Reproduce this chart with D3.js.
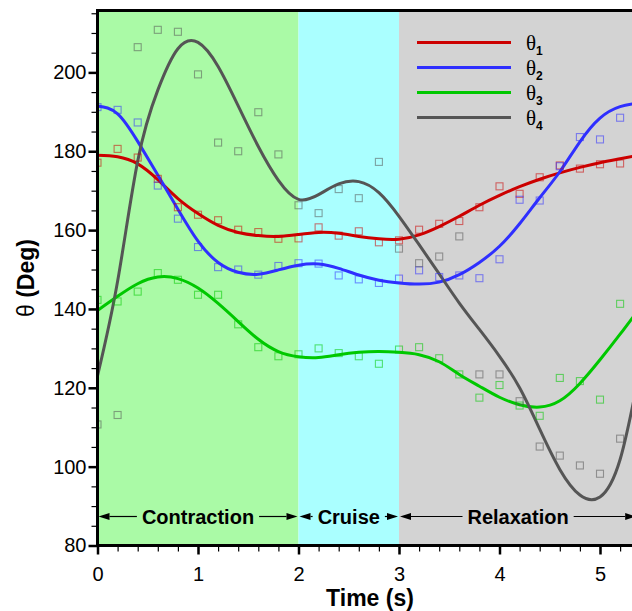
<!DOCTYPE html>
<html>
<head>
<meta charset="utf-8">
<script src="https://cdn.jsdelivr.net/npm/d3@7"></script>
<style>
  body { margin: 0; background: #fff; }
  svg { display: block; font-family: "Liberation Sans", Arial, sans-serif; }
</style>
</head>
<body>
<svg id="chart" width="632" height="611"></svg>
<script>
// measured samples (squares), every 0.2 s
const timeSamples = [0, 0.2, 0.4, 0.6, 0.8, 1.0, 1.2, 1.4, 1.6, 1.8, 2.0, 2.2, 2.4, 2.6, 2.8, 3.0, 3.2, 3.4, 3.6, 3.8, 4.0, 4.2, 4.4, 4.6, 4.8, 5.0, 5.2];
const theta1Pts = [177.1, 180.6, 178.4, 173.0, 165.8, 163.9, 162.5, 160.1, 159.5, 157.8, 157.9, 160.7, 158.6, 159.7, 156.9, 157.4, 160.1, 161.6, 162.3, 165.8, 171.1, 169.2, 173.4, 176.4, 175.6, 176.7, 176.9];
const theta2Pts = [191.2, 190.5, 187.3, 171.3, 162.9, 155.7, 150.6, 150.0, 148.7, 150.9, 151.6, 151.5, 148.5, 147.5, 146.6, 147.7, 149.8, 148.1, 148.5, 147.8, 152.6, 167.7, 167.5, 176.2, 183.6, 183.0, 188.5];
const theta3Pts = [142.3, 141.9, 144.4, 149.1, 147.4, 143.6, 143.6, 136.1, 130.3, 128.0, 128.5, 130.0, 128.8, 128.0, 126.1, 129.7, 130.3, 127.5, 123.4, 117.5, 120.7, 115.5, 112.9, 122.5, 121.7, 117.0, 141.3];
const theta4Pts = [110.7, 113.1, 206.4, 210.8, 210.3, 199.5, 182.2, 180.0, 189.9, 179.2, 166.3, 164.3, 170.4, 168.1, 177.3, 155.3, 151.6, 153.3, 158.4, 123.4, 123.4, 116.6, 105.1, 102.8, 100.3, 98.2, 107.1];

// fitted curves
const fitTime = [0, 0.2, 0.4, 0.6, 0.8, 1.0, 1.2, 1.4, 1.6, 1.8, 2.0, 2.2, 2.4, 2.6, 2.8, 3.0, 3.2, 3.4, 3.6, 3.8, 4.0, 4.2, 4.4, 4.6, 4.8, 5.0, 5.2, 5.4];
const theta1Fit = [179.0, 178.6, 176.8, 172.8, 168.0, 164.2, 161.2, 159.4, 158.6, 158.4, 158.9, 159.4, 159.2, 158.4, 157.8, 157.7, 158.8, 160.9, 163.5, 166.3, 168.8, 171.0, 172.9, 174.5, 175.9, 177.1, 178.1, 179.1];
const theta2Fit = [191.5, 189.5, 182.5, 174.0, 165.3, 157.2, 151.8, 149.3, 148.8, 149.9, 151.1, 151.4, 150.3, 148.6, 147.3, 146.6, 146.3, 146.8, 148.7, 151.8, 155.9, 161.6, 168.2, 174.8, 182.4, 188.4, 191.3, 192.3];
const theta3Fit = [139.6, 143.2, 146.4, 148.1, 147.7, 145.3, 141.4, 136.8, 132.3, 129.2, 127.9, 127.7, 128.4, 129.0, 129.2, 129.0, 128.4, 126.6, 123.4, 120.4, 117.6, 115.7, 115.1, 116.7, 121.1, 127.1, 133.6, 140.4];
const theta4Fit = [123.0, 147.0, 177.5, 195.5, 206.0, 207.6, 201.5, 191.5, 181.2, 172.6, 167.8, 169.0, 171.7, 172.3, 169.5, 163.5, 156.3, 148.9, 141.5, 134.8, 128.0, 120.0, 109.5, 99.3, 92.8, 92.3, 101.8, 125.0];

const seriesSubs = ["1", "2", "3", "4"];
const seriesColors = ["#cc0000", "#2f2fff", "#00c800", "#555555"];

// phases
const phaseNames = ["Contraction", "Cruise", "Relaxation"];
const phaseStart = [0, 2, 3];
const phaseEnd = [2, 3, 5.37];
const phaseColors = ["#aafaa6", "#aaffff", "#d3d3d3"];

const xTicks = [0, 1, 2, 3, 4, 5];
const yTicks = [80, 100, 120, 140, 160, 180, 200];

const plotLeft = 97.5, plotTop = 10.5, plotBottom = 545.5, plotRight = 640;

const x = d3.scaleLinear().domain([0, 5.4]).range([plotLeft, plotLeft + 5.4 * 100.5]);
const y = d3.scaleLinear().domain([80, 215.7]).range([plotBottom, plotTop]);

const svg = d3.select("#chart");

svg.append("defs").append("clipPath").attr("id", "plotClip")
    .append("rect")
    .attr("x", plotLeft).attr("y", plotTop)
    .attr("width", plotRight - plotLeft).attr("height", plotBottom - plotTop);

const plot = svg.append("g").attr("clip-path", "url(#plotClip)");

// background bands
plot.selectAll("rect.band")
    .data(phaseNames.map((n, i) => ({ s: phaseStart[i], e: i === 2 ? 5.6 : phaseEnd[i], c: phaseColors[i] })))
    .join("rect")
    .attr("class", "band")
    .attr("x", d => x(d.s))
    .attr("y", plotTop)
    .attr("width", d => x(d.e) - x(d.s))
    .attr("height", plotBottom - plotTop - 1)
    .attr("fill", d => d.c);

const fits = [theta1Fit, theta2Fit, theta3Fit, theta4Fit];
const pts = [theta1Pts, theta2Pts, theta3Pts, theta4Pts];

const line = d3.line()
    .x(d => x(d[0]))
    .y(d => y(d[1]))
    .curve(d3.curveNatural);

fits.forEach((f, i) => {
    plot.append("path")
        .datum(fitTime.map((t, j) => [t, f[j]]))
        .attr("d", line)
        .attr("fill", "none")
        .attr("stroke", seriesColors[i])
        .attr("stroke-width", 3);
});

// squares on top
const sq = 7;
pts.forEach((p, i) => {
    plot.append("g")
        .selectAll("rect")
        .data(timeSamples.map((t, j) => [t, p[j]]))
        .join("rect")
        .attr("x", d => x(d[0]) - sq / 2)
        .attr("y", d => y(d[1]) - sq / 2)
        .attr("width", sq)
        .attr("height", sq)
        .attr("fill", "none")
        .attr("stroke", seriesColors[i])
        .attr("stroke-opacity", 0.55)
        .attr("stroke-width", 1.1);
});

// phase arrows
const arrowY = 516.5, headLen = 12, headHalf = 3.5;
const ann = svg.append("g");
phaseNames.forEach((name, i) => {
    const xs = x(phaseStart[i]), xe = x(phaseEnd[i]);
    const xm = (xs + xe) / 2;
    const t = ann.append("text")
        .attr("x", xm).attr("y", 523.5)
        .attr("text-anchor", "middle")
        .attr("font-size", 20).attr("font-weight", "bold")
        .text(name);
    const w = t.node().getComputedTextLength();
    const l1 = xm - w / 2 - 5, r1 = xm + w / 2 + 5;
    if (l1 > xs + headLen) {
        ann.append("line").attr("x1", xs + headLen).attr("x2", l1)
            .attr("y1", arrowY).attr("y2", arrowY).attr("stroke", "#000").attr("stroke-width", 1.2);
    }
    if (r1 < xe - headLen) {
        ann.append("line").attr("x1", r1).attr("x2", xe - headLen)
            .attr("y1", arrowY).attr("y2", arrowY).attr("stroke", "#000").attr("stroke-width", 1.2);
    }
    ann.append("path")
        .attr("d", `M${xs + 1},${arrowY}L${xs + headLen},${arrowY - headHalf}L${xs + headLen},${arrowY + headHalf}Z`)
        .attr("fill", "#000");
    ann.append("path")
        .attr("d", `M${xe - 1},${arrowY}L${xe - headLen},${arrowY - headHalf}L${xe - headLen},${arrowY + headHalf}Z`)
        .attr("fill", "#000");
});

// legend
const legend = svg.append("g");
seriesSubs.forEach((s, i) => {
    const ly = 42.5 + i * 25;
    legend.append("line")
        .attr("x1", 417).attr("x2", 511)
        .attr("y1", ly).attr("y2", ly)
        .attr("stroke", seriesColors[i]).attr("stroke-width", 3);
    const t = legend.append("text")
        .attr("x", 526).attr("y", ly + 7)
        .attr("font-family", "'Liberation Serif', 'DejaVu Serif', serif")
        .attr("font-size", 21);
    t.append("tspan").text("θ");
    t.append("tspan")
        .attr("dy", 5)
        .attr("font-family", "'Liberation Sans', Arial, sans-serif")
        .attr("font-weight", "bold")
        .attr("font-size", 12)
        .text(s);
});

// axes
const yMinor = d3.range(80, 216, 5);
const xMinor = d3.range(0, 5.41, 0.2);

const yMinorAxis = svg.append("g")
    .attr("transform", `translate(${plotLeft},0)`)
    .call(d3.axisLeft(y).tickValues(yMinor).tickSize(6).tickFormat(""));
yMinorAxis.select(".domain").remove();
yMinorAxis.selectAll("line").attr("stroke-width", 1.2);

const yAxis = svg.append("g")
    .attr("transform", `translate(${plotLeft},0)`)
    .call(d3.axisLeft(y).tickValues(yTicks).tickSize(9).tickPadding(2));
yAxis.select(".domain").remove();
yAxis.selectAll("line").attr("stroke-width", 2.5);
yAxis.selectAll("text").attr("font-size", 20).attr("font-family", "'Liberation Sans', Arial, sans-serif").attr("fill", "#000");

const xMinorAxis = svg.append("g")
    .attr("transform", `translate(0,${plotBottom})`)
    .call(d3.axisBottom(x).tickValues(xMinor).tickSize(6).tickFormat(""));
xMinorAxis.select(".domain").remove();
xMinorAxis.selectAll("line").attr("stroke-width", 1.2);

const xAxis = svg.append("g")
    .attr("transform", `translate(0,${plotBottom})`)
    .call(d3.axisBottom(x).tickValues(xTicks).tickSize(9).tickPadding(12).tickFormat(d3.format("d")));
xAxis.select(".domain").remove();
xAxis.selectAll("line").attr("stroke-width", 2.5);
xAxis.selectAll("text").attr("font-size", 20).attr("font-family", "'Liberation Sans', Arial, sans-serif").attr("fill", "#000");

// frame
svg.append("path")
    .attr("d", `M${plotRight + 10},${plotTop}H${plotLeft}V${plotBottom}H${plotRight + 10}`)
    .attr("fill", "none")
    .attr("stroke", "#000")
    .attr("stroke-width", 3);

// axis titles
svg.append("text")
    .attr("x", 370).attr("y", 606)
    .attr("text-anchor", "middle")
    .attr("font-size", 23).attr("font-weight", "bold")
    .text("Time (s)");

const yTitle = svg.append("text")
    .attr("transform", "translate(34,278) rotate(-90)")
    .attr("text-anchor", "middle")
    .attr("font-size", 23);
yTitle.append("tspan").text("θ ");
yTitle.append("tspan").attr("font-weight", "bold").text("(Deg)");
</script>
</body>
</html>
